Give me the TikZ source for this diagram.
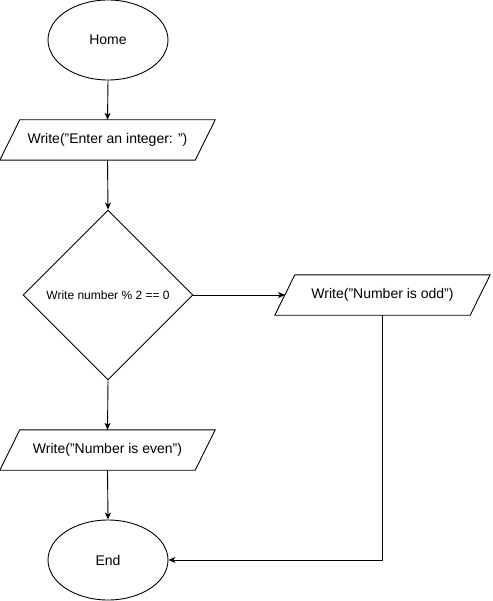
\documentclass[tikz,border=0pt]{standalone}
\usepackage{fontspec}
\setmainfont{Liberation Sans}
\usetikzlibrary{shapes.geometric,arrows.meta}
\begin{document}
\begin{tikzpicture}[x=1pt,y=-1pt,
  every node/.style={font=\fontsize{14pt}{16pt}\selectfont, inner sep=0pt},
  term/.style={ellipse, draw, line width=0.9pt, minimum width=120pt, minimum height=80pt},
  iobox/.style={rectangle, minimum width=195pt, minimum height=40pt},
  decision/.style={diamond, draw, line width=0.9pt, minimum width=170pt, minimum height=170pt, font=\fontsize{12pt}{14pt}\selectfont},
  conn/.style={line width=0.9pt, -{Stealth[length=7pt,width=6pt,inset=2pt]}}]
\useasboundingbox (0,0) rectangle (492,601);
\node[term] (home) at (108,40) {Home};
\node[iobox] (in1) at (107.5,140) {Write("Enter an integer: ")};
\node[decision] (dec) at (108,295) {Write number \% 2 == 0};
\node[iobox] (odd) at (382.5,295) {Write("Number is odd")};
\node[iobox] (even) at (107.5,450) {Write("Number is even")};
\node[term] (end) at (108,560) {End};
\foreach \n in {in1,odd,even}{
  \draw[line width=0.9pt] ([xshift=10pt]\n.north west) -- ([xshift=10pt]\n.north east)
    -- ([xshift=-10pt]\n.south east) -- ([xshift=-10pt]\n.south west) -- cycle;
}
\draw[conn] (home.south) -- (in1.north);
\draw[conn] (in1.south) -- (dec.north);
\draw[conn] (dec.east) -- ([xshift=-97.5pt]odd.center);
\draw[conn] (dec.south) -- (even.north);
\draw[conn] (even.south) -- (end.north);
\draw[conn] (odd.south) |- (end.east);
\end{tikzpicture}
\end{document}
